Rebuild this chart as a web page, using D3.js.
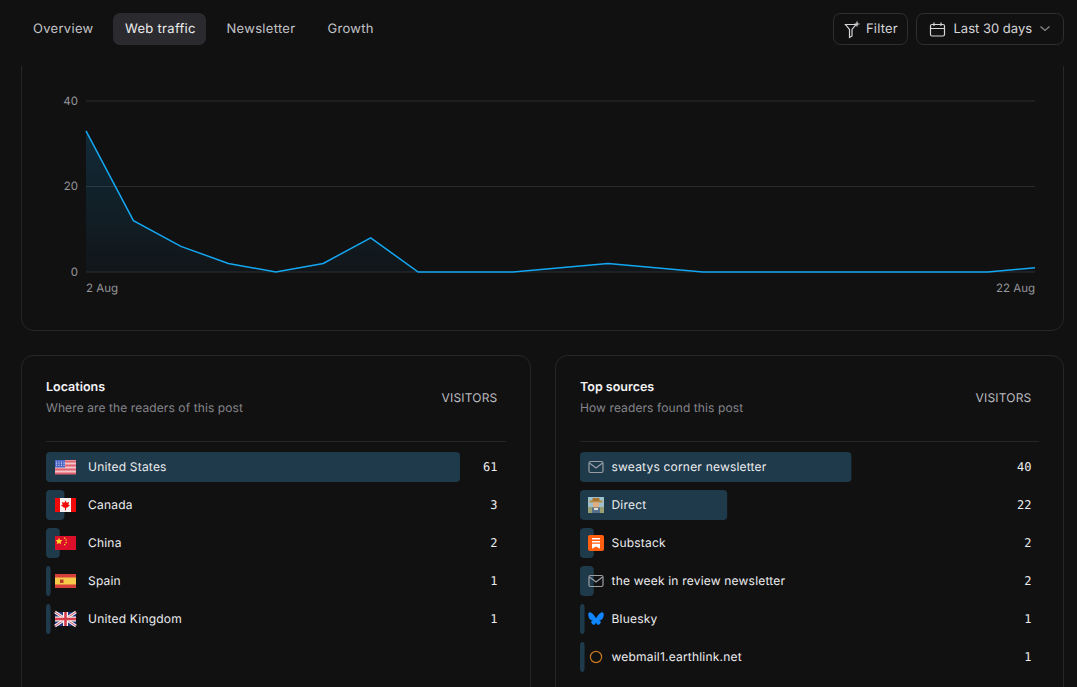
<!DOCTYPE html>
<html>
<head>
<meta charset="utf-8">
<script src="https://cdn.jsdelivr.net/npm/d3@7"></script>
<style>
  html, body { margin: 0; padding: 0; background: #111112; overflow: hidden; }
  svg { display: block; font-family: Inter, "Noto Sans", sans-serif; text-rendering: geometricPrecision; }
</style>
</head>
<body>
<svg id="page" width="1077" height="687"></svg>
<script>
(function () {
  const tabs = ["Overview", "Web traffic", "Newsletter", "Growth"];
  const days = d3.range(2, 23);
  const visits = [33, 12, 6, 2, 0, 2, 8, 0, 0, 0, 1, 2, 1, 0, 0, 0, 0, 0, 0, 0, 1];
  const yTicks = [0, 20, 40];
  const xLabels = ["2 Aug", "22 Aug"];

  const locationNames = ["United States", "Canada", "China", "Spain", "United Kingdom"];
  const locationValues = [61, 3, 2, 1, 1];
  const locationIcons = ["us", "ca", "cn", "es", "gb"];

  const sourceNames = ["sweatys corner newsletter", "Direct", "Substack", "the week in review newsletter", "Bluesky", "webmail1.earthlink.net"];
  const sourceValues = [40, 22, 2, 2, 1, 1];
  const sourceIcons = ["mail", "farmer", "substack", "mail", "bluesky", "earthlink"];

  const bg = "#111112";
  const border = "#27272a";
  const barColor = "#1f3a4b";
  const lineColor = "#14a7f2";

  const svg = d3.select("#page");

  const defs = svg.append("defs");
  const grad = defs.append("linearGradient")
    .attr("id", "fade").attr("x1", 0).attr("x2", 0).attr("y1", 0).attr("y2", 1);
  grad.append("stop").attr("offset", 0).attr("stop-color", lineColor).attr("stop-opacity", 0.17);
  grad.append("stop").attr("offset", 1).attr("stop-color", lineColor).attr("stop-opacity", 0.03);

  function card(x, y, w, h) {
    svg.append("rect")
      .attr("x", x + 0.5).attr("y", y + 0.5)
      .attr("width", w).attr("height", h)
      .attr("rx", 12)
      .attr("fill", "none")
      .attr("stroke", border);
  }

  // chart card, its top slides under the sticky header
  card(21, 20, 1042, 310);
  card(21, 355, 509, 400);
  card(555, 355, 508, 400);

  // ---- chart
  const x = d3.scalePoint().domain(days).range([86, 1035]);
  const y = d3.scaleLinear().domain([0, 40]).range([272, 101]);

  const yAxis = d3.axisLeft(y).tickValues(yTicks).tickSize(-949).tickPadding(8).offset(0);
  const yG = svg.append("g").attr("transform", "translate(86,0)").call(yAxis);
  yG.select(".domain").remove();
  yG.selectAll("line").attr("stroke", "#2c2c30").attr("stroke-width", 1);
  yG.selectAll("text")
    .attr("fill", "#96969a").attr("font-size", 11.5).attr("font-family", "Inter");

  const area = d3.area().x((d, i) => x(days[i])).y0(y(0)).y1(d => y(d));
  const line = d3.line().x((d, i) => x(days[i])).y(d => y(d));

  svg.append("path").datum(visits).attr("d", area).attr("fill", "url(#fade)");
  svg.append("path").datum(visits).attr("d", line)
    .attr("fill", "none").attr("stroke", lineColor).attr("stroke-width", 1.5);

  svg.selectAll(".xlabel").data(xLabels).join("text")
    .attr("class", "xlabel")
    .attr("x", (d, i) => i === 0 ? x(days[0]) : x(days[days.length - 1]))
    .attr("y", 292)
    .attr("text-anchor", (d, i) => i === 0 ? "start" : "end")
    .attr("fill", "#96969a").attr("font-size", 11.5)
    .text(d => d);

  // ---- header goes over the card top
  svg.append("rect").attr("width", 1077).attr("height", 66).attr("fill", bg);

  const tabX = [33, 125, 226.5, 327.5];
  svg.append("rect").attr("x", 113).attr("y", 13).attr("width", 93).attr("height", 32)
    .attr("rx", 7).attr("fill", "#2b2b2f");
  svg.selectAll(".tab").data(tabs).join("text")
    .attr("class", "tab")
    .attr("x", (d, i) => tabX[i]).attr("y", 33)
    .attr("fill", (d, i) => i === 1 ? "#ededee" : "#c4c4c7")
    .attr("font-size", 13).attr("font-weight", 400).attr("letter-spacing", 0.3)
    .text(d => d);

  function button(bx, w) {
    svg.append("rect").attr("x", bx + 0.5).attr("y", 13.5).attr("width", w).attr("height", 31)
      .attr("rx", 7).attr("fill", "none").attr("stroke", "#2f2f33");
  }
  button(833, 74);
  button(916, 147);

  svg.append("path")
    .attr("d", "M845.500 24.500h10.500l-4 5v6.500l-2.500 1.500v-8z M857 21.500v5 M854.500 24h5")
    .attr("fill", "none").attr("stroke", "#d6d6d9").attr("stroke-width", 1.2);
  svg.append("text").attr("x", 866).attr("y", 33).attr("fill", "#d6d6d9")
    .attr("font-size", 13).attr("letter-spacing", 0.2).text("Filter");

  svg.append("path")
    .attr("d", "M932 24.500h11a1.500 1.500 0 0 1 1.500 1.500v8.500a1.500 1.500 0 0 1 -1.500 1.500h-11a1.500 1.500 0 0 1 -1.500 -1.500v-8.500a1.500 1.500 0 0 1 1.500 -1.500z M930.500 28.500h14 M934 22.500v3.500 M941 22.500v3.500")
    .attr("fill", "none").attr("stroke", "#d6d6d9").attr("stroke-width", 1.2);
  svg.append("text").attr("x", 953.500).attr("y", 33).attr("fill", "#d6d6d9")
    .attr("font-size", 13).attr("letter-spacing", 0).text("Last 30 days");
  svg.append("path").attr("d", "M1040.500 26.500l4.500 4l4.500 -4")
    .attr("fill", "none").attr("stroke", "#8b8b8f").attr("stroke-width", 1.2);

  // ---- icons, 21 wide flags and 16 wide logos
  function flag(g, code) {
    const f = g.append("g").attr("transform", "translate(0,-7)");
    const r = (rx, ry, w, h, c) => f.append("rect").attr("x", rx).attr("y", ry).attr("width", w).attr("height", h).attr("fill", c);
    if (code === "us") {
      r(0, 0, 21, 14, "#f0c4c8");
      d3.range(0, 14, 4).forEach(s => r(0, s + 0.5, 21, 2, "#e0606e"));
      r(0, 0, 10, 7.500, "#4a66c4");
      f.append("path").attr("d", "M1.500 1.500v4.500M4 1.500v4.500M6.500 1.500v4.500M9 1.500v4.500")
        .attr("stroke", "#c7d2f0").attr("stroke-dasharray", "1 .7");
    } else if (code === "ca") {
      r(0, 0, 21, 14, "#f7f1f1");
      r(0, 0, 5, 14, "#f20a0a");
      r(16, 0, 5, 14, "#f20a0a");
      f.append("path").attr("d", "M10.500 2.500l1.200 2.200l2.300 -.7l-.6 2.700l1.600 .6l-3 2.500h-1v2.500h-1v-2.500h-1l-3 -2.500l1.600 -.6l-.6 -2.700l2.300 .7z").attr("fill", "#f20a0a");
    } else if (code === "cn") {
      r(0, 0, 21, 14, "#dc0f2a");
      f.append("path").attr("d", "M4 1.800l1 2.300l2.500 .2l-1.900 1.600l.6 2.400l-2.200 -1.300l-2.200 1.300l.6 -2.400l-1.900 -1.600l2.500 -.2z").attr("fill", "#fbd92c");
      [[9, 1.500], [10.500, 3.500], [10.500, 6], [9, 8]].forEach(p => r(p[0], p[1], 1.300, 1.300, "#fbd92c"));
    } else if (code === "es") {
      r(0, 0, 21, 14, "#d5403a");
      r(0, 3.500, 21, 7, "#f7c94b");
      r(5, 5.500, 3.500, 3.500, "#b53a2c");
    } else {
      r(0, 0, 21, 14, "#26367e");
      f.append("path").attr("d", "M0 0L21 14M21 0L0 14").attr("stroke", "#f4f4f4").attr("stroke-width", 2.800);
      f.append("path").attr("d", "M0 0L21 14M21 0L0 14").attr("stroke", "#d43c4a").attr("stroke-width", 0.900);
      r(8, 0, 5, 14, "#f4f4f4");
      r(0, 4.500, 21, 5, "#f4f4f4");
      r(9.200, 0, 2.600, 14, "#d43c4a");
      r(0, 5.700, 21, 2.600, "#d43c4a");
    }
  }

  function logo(g, code) {
    const l = g.append("g").attr("transform", "translate(0,-8)");
    const r = (rx, ry, w, h, c) => l.append("rect").attr("x", rx).attr("y", ry).attr("width", w).attr("height", h).attr("fill", c);
    if (code === "mail") {
      l.append("rect").attr("x", 1).attr("y", 2.500).attr("width", 14).attr("height", 11).attr("rx", 1.500)
        .attr("fill", "none").attr("stroke", "#9a9fa5").attr("stroke-width", 1.200);
      l.append("path").attr("d", "M1.500 4l6.500 5l6.500 -5").attr("fill", "none").attr("stroke", "#9a9fa5").attr("stroke-width", 1.200);
    } else if (code === "farmer") {
      r(0, 0, 16, 16, "#9cc0cc");
      r(0, 10, 16, 6, "#9aa070");
      r(1.500, 3.500, 13, 2, "#c08a3e");
      r(4.500, 1, 7, 3, "#a8742f");
      r(5, 5.500, 6, 5, "#e0ae80");
      r(4, 10.500, 8, 5.500, "#55708c");
      r(6, 11, 4, 2, "#e8e0d0");
    } else if (code === "substack") {
      l.append("rect").attr("width", 16).attr("height", 16).attr("rx", 2).attr("fill", "#ff5f0f");
      r(4, 3, 8, 1.500, "#fff");
      r(4, 6, 8, 1.500, "#fff");
      l.append("path").attr("d", "M4 8.700h8v5l-4 -2.200l-4 2.200z").attr("fill", "#fff");
    } else if (code === "bluesky") {
      l.append("path")
        .attr("d", "M8 7.200C7.300 5.700 5 2.300 2.700 1.400C1 .8 .3 1.600 .3 3.500C.3 5.400 1 8 2.500 8.700C3.500 9.100 4.500 9.100 5 8.900C3.500 9.500 2.500 10.500 3.800 12.500C5 14.300 7 14.500 8 11.500C9 14.500 11 14.300 12.200 12.500C13.500 10.500 12.500 9.500 11 8.900C11.500 9.100 12.500 9.100 13.500 8.700C15 8 15.700 5.400 15.700 3.500C15.700 1.600 15 .8 13.300 1.400C11 2.300 8.700 5.700 8 7.200z")
        .attr("fill", "#1185fe");
    } else {
      l.append("circle").attr("cx", 8).attr("cy", 8).attr("r", 5.600)
        .attr("fill", "none").attr("stroke", "#c9781f").attr("stroke-width", 1.200);
    }
  }

  // ---- list cards
  const barScale = d3.scaleLinear().domain([0, 100]).range([0, 460]);

  function listCard(opts) {
    const left = opts.left;
    svg.append("text").attr("x", left).attr("y", 391).attr("fill", "#f2f2f3")
      .attr("font-size", 12.500).attr("font-weight", 600).text(opts.title);
    svg.append("text").attr("x", left).attr("y", 412).attr("fill", "#85858a")
      .attr("font-size", 12).attr("letter-spacing", 0.1).text(opts.subtitle);
    svg.append("text").attr("x", left + 451.500).attr("y", 402).attr("text-anchor", "end")
      .attr("fill", "#bcbcc0").attr("font-size", 12).attr("letter-spacing", 0.2).text("VISITORS");
    svg.append("line").attr("x1", left).attr("x2", left + opts.ruleWidth).attr("y1", 441.500).attr("y2", 441.500)
      .attr("stroke", "#26262a");

    const total = d3.sum(opts.values);
    const rows = svg.append("g").selectAll("g").data(opts.names).join("g")
      .attr("transform", (d, i) => "translate(" + left + "," + (467 + i * 38) + ")");

    rows.append("rect")
      .attr("y", -15).attr("height", 30).attr("rx", 4)
      .attr("width", (d, i) => barScale(Math.round(opts.values[i] / total * 100)))
      .attr("fill", barColor);

    rows.append("g").attr("transform", "translate(" + opts.iconX + ",0)")
      .each(function (d, i) { opts.draw(d3.select(this), opts.icons[i]); });

    rows.append("text").attr("x", opts.labelX).attr("y", 4.300)
      .attr("fill", "#ececee").attr("font-size", 12).attr("letter-spacing", 0.2)
      .text(d => d);

    rows.append("text").attr("x", 451.500).attr("y", 4.300).attr("text-anchor", "end")
      .attr("fill", "#ececee").attr("font-size", 12)
      .attr("font-family", "'DejaVu Sans Mono', monospace")
      .text((d, i) => opts.values[i]);
  }

  listCard({
    left: 46, title: "Locations", subtitle: "Where are the readers of this post",
    names: locationNames, values: locationValues, icons: locationIcons,
    draw: flag, iconX: 9, labelX: 42, ruleWidth: 460
  });
  listCard({
    left: 580, title: "Top sources", subtitle: "How readers found this post",
    names: sourceNames, values: sourceValues, icons: sourceIcons,
    draw: logo, iconX: 8, labelX: 31.500, ruleWidth: 459
  });
})();
</script>
</body>
</html>
